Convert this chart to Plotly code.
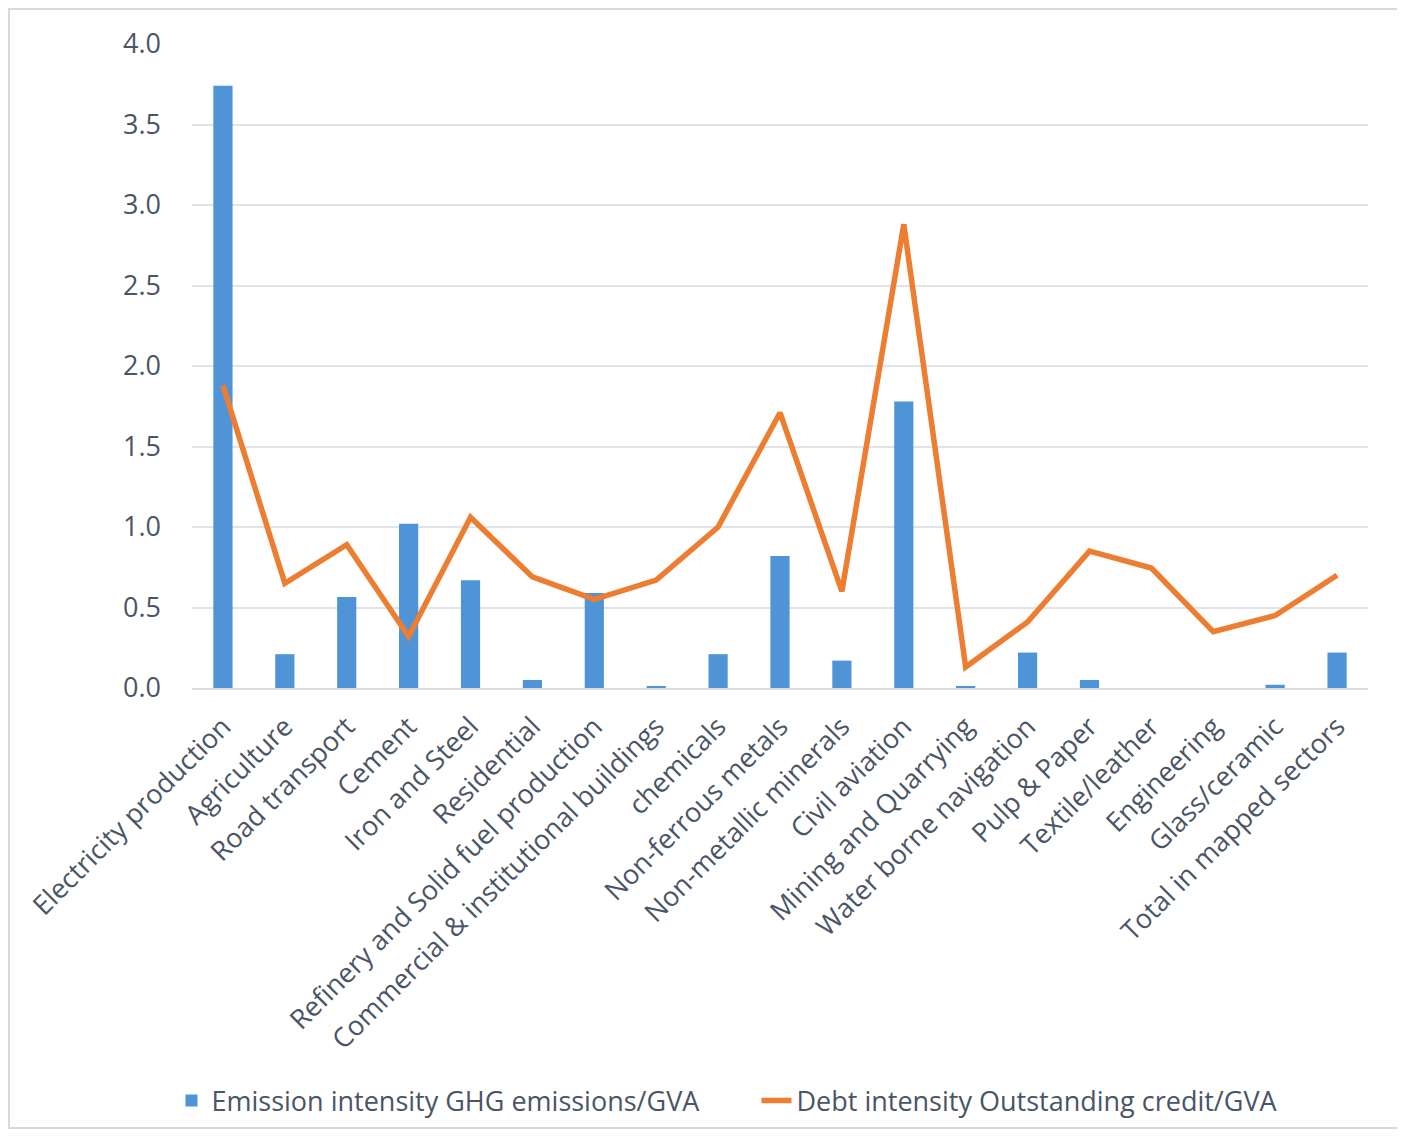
import plotly.graph_objects as go

categories = ["Electricity production", "Agriculture", "Road transport", "Cement", "Iron and Steel",
              "Residential", "Refinery and Solid fuel production", "Commercial & institutional buildings",
              "chemicals", "Non-ferrous metals", "Non-metallic minerals", "Civil aviation",
              "Mining and Quarrying", "Water borne navigation", "Pulp & Paper", "Textile/leather",
              "Engineering", "Glass/ceramic", "Total in mapped sectors"]
emission_intensity = [3.74, 0.21, 0.565, 1.02, 0.67, 0.05, 0.59, 0.01, 0.21, 0.82, 0.17, 1.78,
                      0.01, 0.22, 0.05, 0.0, 0.0, 0.02, 0.22]
debt_intensity = [1.88, 0.65, 0.89, 0.32, 1.06, 0.69, 0.55, 0.67, 1.0, 1.71, 0.60, 2.88,
                  0.13, 0.41, 0.85, 0.745, 0.35, 0.45, 0.70]
y_ticks = [0, 0.5, 1.0, 1.5, 2.0, 2.5, 3.0, 3.5, 4.0]

FONT = "Open Sans"
GREY = "#4A5566"

W, H = 1389, 1122
L, T = 184, 36
PW, PH = 1176, 644
B = H - T - PH

fig = go.Figure()
fig.add_trace(go.Bar(x=categories, y=emission_intensity,
                     name="Emission intensity GHG emissions/GVA",
                     marker=dict(color="#4F94D6", line=dict(width=0))))
fig.add_trace(go.Scatter(x=categories, y=debt_intensity, mode="lines",
                         name="Debt intensity Outstanding credit/GVA",
                         line=dict(color="#ED7D31", width=5.5)))

fig.update_layout(
    width=W, height=H,
    margin=dict(l=L, r=W - L - PW, t=T, b=B, autoexpand=False),
    plot_bgcolor="white", paper_bgcolor="white",
    bargap=0.69,
    font=dict(family=FONT, color=GREY),
    showlegend=True,
    legend=dict(orientation="h", x=0.48, xanchor="center", y=-(1101 - 688) / PH, yanchor="middle",
                font=dict(size=27, color=GREY, family=FONT),
                entrywidth=540, entrywidthmode="pixels",
                traceorder="normal"),
    xaxis=dict(tickangle=-45, tickfont=dict(size=27, color=GREY, family=FONT),
               showgrid=False, showline=True, linecolor="#d9dde4", linewidth=2,
               ticks="", ticklabelstandoff=10),
    yaxis=dict(range=[0, 4.0], tickvals=y_ticks, tickformat=".1f",
               tickfont=dict(size=27, color=GREY, family=FONT),
               showgrid=True, gridcolor="#dfe3ea", gridwidth=2,
               zeroline=False, showline=False, ticks="", ticklabelstandoff=30),
    shapes=[dict(type="rect", xref="paper", yref="paper",
                 x0=(9 - 192) / PW, x1=(1400 - 192) / PW,
                 y0=-(B - 2) / PH, y1=1 + (44 - 9) / PH,
                 line=dict(color="#d9d9d9", width=2), fillcolor="rgba(0,0,0,0)",
                 layer="below")],
)

fig.write_html("out.html")
